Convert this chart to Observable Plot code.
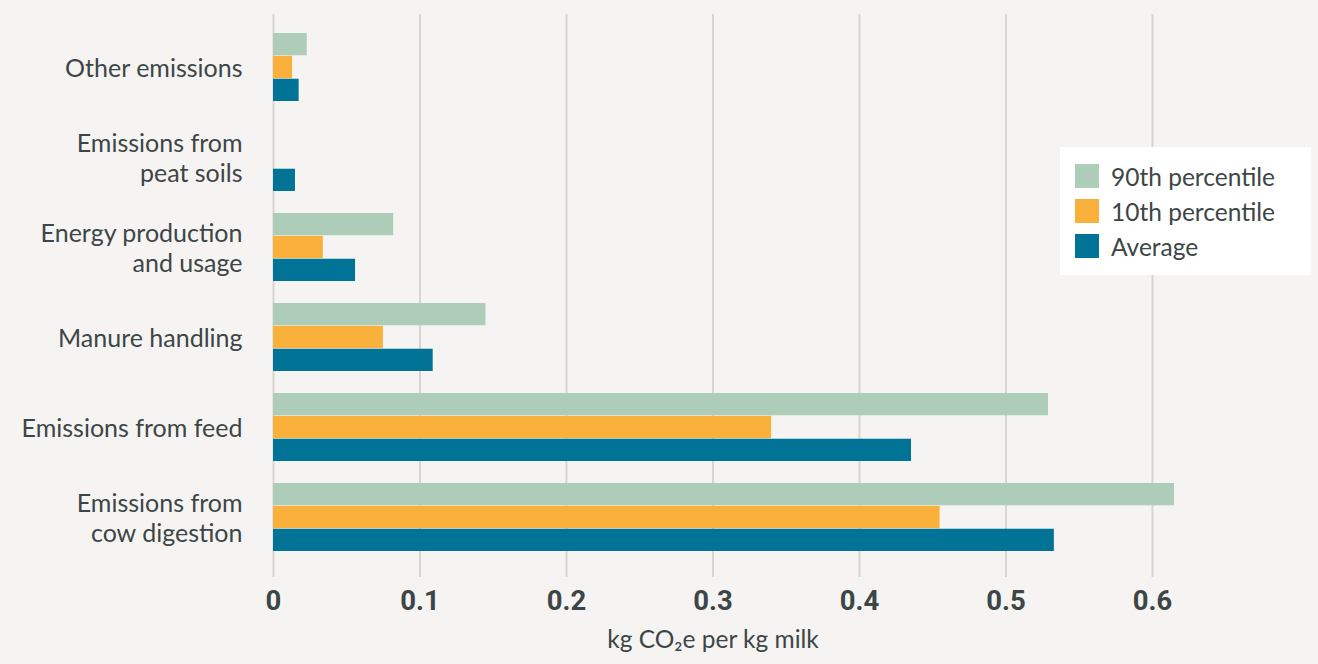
<!DOCTYPE html>
<html>
<head>
<meta charset="utf-8">
<script src="https://cdn.jsdelivr.net/npm/d3@7"></script>
<script src="https://cdn.jsdelivr.net/npm/@observablehq/plot@0.6"></script>
<style>
  html, body { margin: 0; padding: 0; background: #f5f4f2; }
  #wrap { position: relative; width: 1318px; height: 664px; overflow: hidden; }
  #legend { position: absolute; left: 1060px; top: 147px; width: 251px; height: 128px; background: #ffffff;
    font-family: Lato, "Open Sans", sans-serif; font-size: 24.5px; color: #3d4646; }
  .item { position: absolute; left: 15px; height: 24px; display: flex; align-items: center; }
  .sw { width: 24px; height: 24px; margin-right: 12px; }
</style>
</head>
<body>
<div id="wrap"><div id="chart"></div><div id="legend"></div></div>
<script>
const categories = ["Other emissions", "Emissions from peat soils", "Energy production and usage", "Manure handling", "Emissions from feed", "Emissions from cow digestion"];
const categoryLabels = ["Other emissions", "Emissions from\npeat soils", "Energy production\nand usage", "Manure handling", "Emissions from feed", "Emissions from\ncow digestion"];
const series = ["90th percentile", "10th percentile", "Average"];
const colors = ["#adcdb9", "#f9b13c", "#007396"];
const p90 = [0.023, null, 0.082, 0.145, 0.529, 0.615];
const p10 = [0.013, null, 0.034, 0.075, 0.340, 0.455];
const avg = [0.0175, 0.015, 0.056, 0.109, 0.4355, 0.533];
const xTicks = [0, 0.1, 0.2, 0.3, 0.4, 0.5, 0.6];
const xTickLabels = ["0", "0.1", "0.2", "0.3", "0.4", "0.5", "0.6"];
const xLabel = "kg CO₂e per kg milk";

const seriesValues = [p90, p10, avg];
const rows = series.map((s, i) => categories.map((c, j) => ({category: c, series: s, value: seriesValues[i][j]})).filter(d => d.value != null));

const labelOf = new Map(categories.map((c, i) => [c, categoryLabels[i]]));
const tickLabelOf = new Map(xTicks.map((t, i) => [t, xTickLabels[i]]));

const bw = 68.6, third = bw / 3;
const insets = [[0, 2 * third], [third, third], [2 * third, 0]];

const plot = Plot.plot({
  width: 1318,
  height: 664,
  marginLeft: 273,
  marginRight: 166,
  marginTop: 14,
  marginBottom: 87,
  style: {background: "transparent", fontFamily: "Lato, 'Open Sans', sans-serif", color: "#3d4646"},
  x: {domain: [0, 0.6], label: null},
  y: {domain: categories, range: [8.5, 576], padding: 0.245, label: null},
  color: {domain: series, range: colors},
  marks: [
    Plot.gridX(xTicks, {stroke: "#d8d5d0", strokeOpacity: 1, strokeWidth: 2}),
    ...rows.map((r, i) => Plot.barX(r, {x: "value", y: "category", fill: "series", insetTop: insets[i][0], insetBottom: insets[i][1]})),
    Plot.axisX(xTicks, {tickSize: 0, tickPadding: 13, fontSize: 27.5, fontWeight: "bold", fontFamily: "Roboto, sans-serif", tickFormat: d => tickLabelOf.get(d), label: null}),
    Plot.text([xLabel], {frameAnchor: "bottom", dy: 70, fontSize: 24.5, fill: "#3d4646"}),
    Plot.axisY({tickSize: 0, tickPadding: 31, fontSize: 25, lineHeight: 1.2, tickFormat: d => labelOf.get(d), label: null})
  ]
});
document.getElementById("chart").appendChild(plot);

const legend = document.getElementById("legend");
series.forEach((s, i) => {
  const item = document.createElement("div");
  item.className = "item";
  item.style.top = (17 + i * 35) + "px";
  const sw = document.createElement("div");
  sw.className = "sw";
  sw.style.background = colors[i];
  const t = document.createElement("span");
  t.textContent = s;
  item.appendChild(sw); item.appendChild(t);
  legend.appendChild(item);
});
</script>
</body>
</html>
